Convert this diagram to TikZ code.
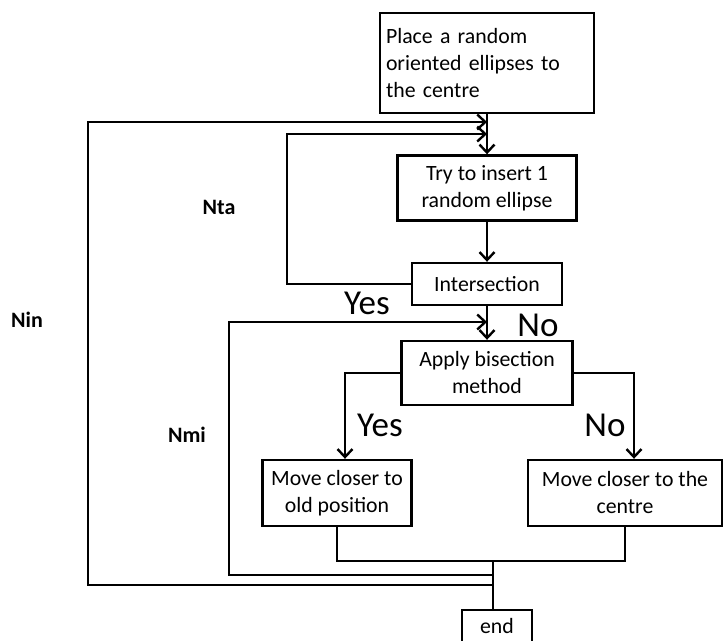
\documentclass[tikz,border=0pt]{standalone}
\usepackage{fontspec}
\setmainfont{Carlito}
\usetikzlibrary{arrows.meta}
\begin{document}
\begin{tikzpicture}[x=1pt,y=-1pt,>={Straight Barb[length=8pt,width=15pt]},line width=2.4pt,
  box/.style={draw,rectangle,inner sep=0pt,align=center,font=\fontsize{21.8}{27}\selectfont},
  big/.style={font=\fontsize{35}{38}\selectfont},
  lab/.style={font=\bfseries\fontsize{22}{26}\selectfont}]
\useasboundingbox (0,0) rectangle (723,640);
\node[box,minimum width=214pt,minimum height=100pt,align=left,text width=202pt](place) at (487,63){Place a random\\oriented ellipses to\\the centre};
\node[box,minimum width=179pt,minimum height=65pt](try) at (487,188){Try to insert 1\\random ellipse};
\node[box,minimum width=150pt,minimum height=42pt](inter) at (487,284){Intersection};
\node[box,minimum width=171pt,minimum height=64pt](apply) at (487,373){Apply bisection\\method};
\node[box,minimum width=149pt,minimum height=66pt](old) at (337,493){Move closer to\\old position};
\node[box,minimum width=194pt,minimum height=66pt](centre) at (625,493){Move closer to the\\centre};
\node[box,minimum width=70pt,minimum height=32pt](endbox) at (497,626){end};
\coordinate (join) at (493,561);
\coordinate (nta) at (287,134);
\coordinate (nmi) at (229,322);
\coordinate (nmib) at (493,575);
\coordinate (nin) at (88,122);
\coordinate (ninb) at (493,585);
\draw[->](place)--(try);
\draw[->](try)--(inter);
\draw[->](inter)--(apply);
\draw[->](apply.west)-|([xshift=8pt]old.north);
\draw[->](apply.east)-|([xshift=9pt]centre.north);
\draw(old.south)|-(join)-|(centre.south);
\draw(join)--(join|-endbox.north);
\draw[->](inter.west)-|(nta)--(nta-|try.north);
\draw[->](nmib)-|(nmi)--(nmi-|apply.north);
\draw[->](ninb)-|(nin)--(nin-|try.north);
\node[big](yes1) at (367,303){Yes};
\node[big](no1) at (538,325){No};
\node[big](yes2) at (380,425){Yes};
\node[big](no2) at (605,425){No};
\node[lab](lnin) at (27,320){Nin};
\node[lab](lnta) at (219,207){Nta};
\node[lab](lnmi) at (187,435){Nmi};
\end{tikzpicture}
\end{document}
